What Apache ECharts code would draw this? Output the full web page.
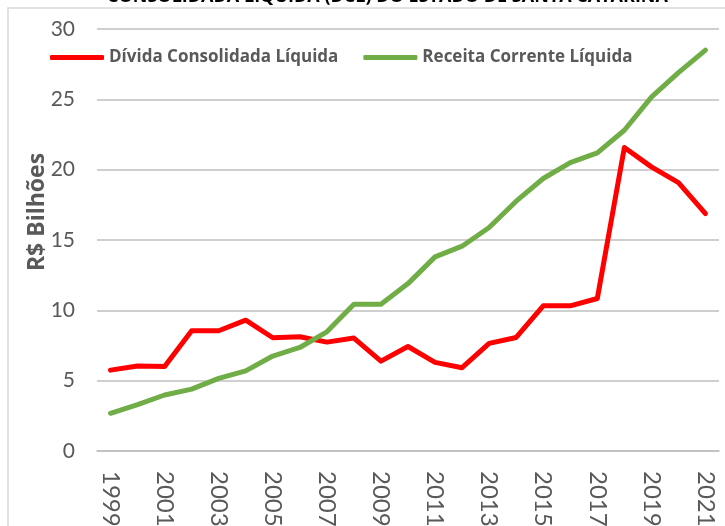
<!DOCTYPE html>
<html><head><meta charset="utf-8">
<script src="https://cdn.jsdelivr.net/npm/echarts@6/dist/echarts.min.js"></script>
<style>html,body{margin:0;padding:0;background:#fff}#c{width:725px;height:526px}</style>
</head><body><div id="c"></div>
<script>
const years = ['1999','2000','2001','2002','2003','2004','2005','2006','2007','2008','2009','2010','2011','2012','2013','2014','2015','2016','2017','2018','2019','2020','2021'];
const dcl = [5.75,6.04,6.0,8.55,8.55,9.3,8.05,8.12,7.74,8.03,6.39,7.43,6.3,5.92,7.65,8.07,10.32,10.32,10.84,21.57,20.2,19.08,16.88];
const rcl = [2.68,3.3,3.98,4.4,5.16,5.7,6.75,7.36,8.47,10.44,10.44,11.9,13.8,14.56,15.89,17.76,19.37,20.5,21.19,22.8,25.16,26.9,28.5];
const seriesNames = ['Dívida Consolidada Líquida','Receita Corrente Líquida'];
const titleText = 'CONSOLIDADA LÍQUIDA (DCL) DO ESTADO DE SANTA CATARINA';
const yName = 'R$ Bilhões';

const chart = echarts.init(document.getElementById('c'), null, {renderer:'canvas'});
const font = 'Lato, "Open Sans", sans-serif';
const bfont = '"Open Sans", Lato, sans-serif';
chart.setOption({
  animation:false,
  graphic:[
    {type:'rect', shape:{x:8,y:8,width:900,height:700}, style:{fill:null, stroke:'#d9d9d9', lineWidth:1.5}, z:-1},
    {type:'text', x:107, y:-3, style:{text:titleText, fontFamily:bfont, fontWeight:'bold', fontSize:18, fill:'#000', align:'left', verticalAlign:'middle'}},
    {type:'text', x:37, y:212, rotation:Math.PI/2, style:{text:yName, fontFamily:bfont, fontWeight:'bold', fontSize:23, fill:'#595959', align:'center', verticalAlign:'middle'}}
  ],
  legend:{
    left:45, top:44, itemWidth:54, itemHeight:5, itemGap:25, icon:'roundRect',
    textStyle:{fontFamily:bfont, fontWeight:'bold', fontSize:17, color:'#595959'},
    data:seriesNames
  },
  grid:{left:97, right:6, top:29, bottom:75, containLabel:false, outerBoundsMode:'none'},
  xAxis:{
    type:'category', data:years, boundaryGap:true,
    axisLine:{lineStyle:{color:'#bfbfbf', width:1.5}},
    axisTick:{show:false},
    axisLabel:{interval:1, rotate:-90, fontFamily:font, fontSize:24, color:'#595959', margin:20}
  },
  yAxis:{
    type:'value', min:0, max:30, interval:5,
    axisLine:{show:false}, axisTick:{show:false},
    splitLine:{lineStyle:{color:'#bfbfbf', width:1.5}},
    axisLabel:{fontFamily:font, fontSize:21, color:'#595959', margin:22}
  },
  series:[
    {name:seriesNames[0], type:'line', data:dcl, symbol:'none', lineStyle:{color:'#ff0000', width:5, cap:'round', join:'round'}, itemStyle:{color:'#ff0000'}},
    {name:seriesNames[1], type:'line', data:rcl, symbol:'none', lineStyle:{color:'#70ad47', width:5, cap:'round', join:'round'}, itemStyle:{color:'#70ad47'}}
  ]
});
</script></body></html>
